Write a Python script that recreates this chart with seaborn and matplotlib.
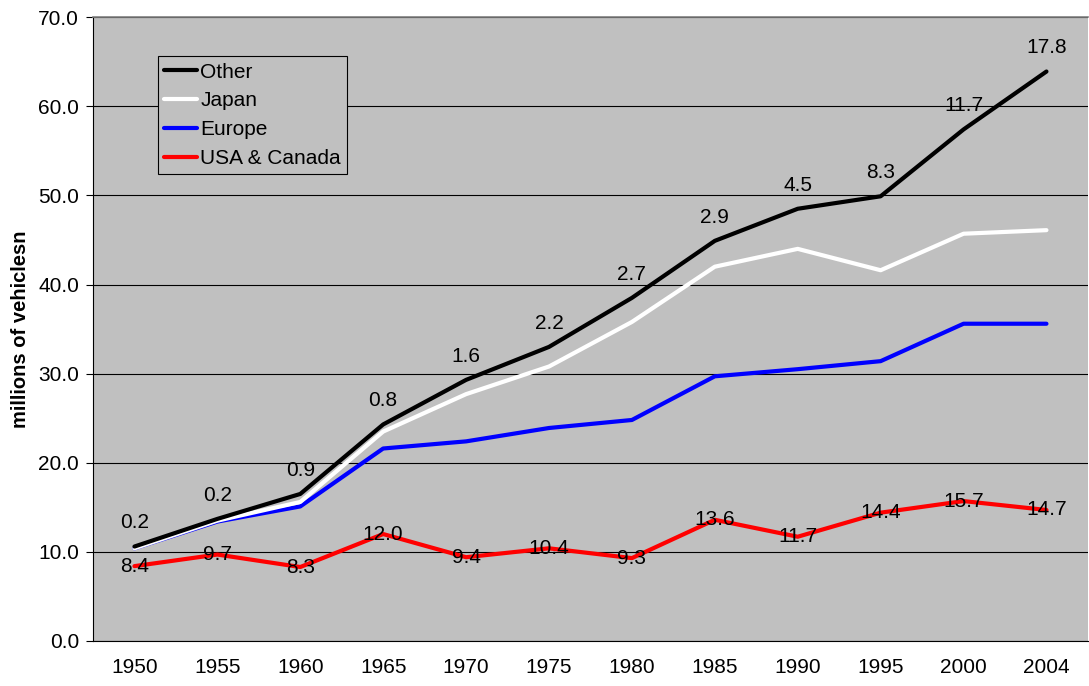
import matplotlib
matplotlib.use('Agg')
import matplotlib.pyplot as plt
import numpy as np
import pandas as pd
import seaborn as sns

# chart data (stacked components, millions of vehicles)
years = ['1950', '1955', '1960', '1965', '1970', '1975',
         '1980', '1985', '1990', '1995', '2000', '2004']
usa_canada = [8.4, 9.7, 8.3, 12.0, 9.4, 10.4, 9.3, 13.6, 11.7, 14.4, 15.7, 14.7]
europe = [2.0, 3.7, 6.8, 9.6, 13.0, 13.5, 15.5, 16.1, 18.8, 17.0, 19.9, 20.9]
japan = [0.0, 0.1, 0.5, 1.9, 5.3, 6.9, 11.0, 12.3, 13.5, 10.2, 10.1, 10.5]
other = [0.2, 0.2, 0.9, 0.8, 1.6, 2.2, 2.7, 2.9, 4.5, 8.3, 11.7, 17.8]
series_names = ['USA & Canada', 'Europe', 'Japan', 'Other']
series_colors = ['#FF0000', '#0000FF', '#FFFFFF', '#000000']


def main():
    sns.set_style('white', {'axes.facecolor': '#C0C0C0',
                            'text.color': 'black',
                            'axes.labelcolor': 'black',
                            'xtick.color': 'black',
                            'ytick.color': 'black'})
    plt.rcParams['font.family'] = ['Liberation Sans', 'DejaVu Sans']

    stacked = np.cumsum(np.array([usa_canada, europe, japan, other]), axis=0)
    pos = np.arange(len(years))
    df = pd.DataFrame({
        'pos': np.tile(pos, len(series_names)),
        'value': stacked.ravel(),
        'series': np.repeat(series_names, len(years)),
    })

    fig = plt.figure(figsize=(10.89, 6.86), dpi=100)
    ax = fig.add_axes([0.0854, 0.0656, 0.9136, 0.9094])
    sns.lineplot(data=df, x='pos', y='value', hue='series',
                 hue_order=series_names, palette=series_colors,
                 linewidth=3, ax=ax, legend=False, sort=False)

    ax.set_xlim(-0.5, len(years) - 0.5)
    ax.set_ylim(0, 70)
    ax.set_yticks(np.arange(0, 71, 10))
    ax.set_yticklabels([f'{v:.1f}' for v in np.arange(0, 71, 10)])
    ax.set_xticks(pos)
    ax.set_xticklabels(years)
    ax.set_xticks(np.arange(-0.5, len(years), 1), minor=True)
    ax.tick_params(axis='x', which='major', length=0, pad=12, labelsize=15,
                   labelcolor='black')
    ax.tick_params(axis='x', which='minor', length=5, width=0.8,
                   color='black', direction='out')
    ax.tick_params(axis='y', length=5, width=0.8, color='black',
                   direction='out', pad=5, labelsize=15, left=True,
                   labelcolor='black')
    ax.yaxis.grid(True, color='black', linewidth=0.8)
    ax.set_axisbelow(True)

    ax.set_xlabel('')
    ax.set_ylabel('millions of vehiclesn', fontsize=14.5, fontweight='bold',
                  labelpad=6, color='black')

    for side in ['left', 'bottom']:
        ax.spines[side].set_color('black')
        ax.spines[side].set_linewidth(0.8)
    ax.spines['top'].set_color('#808080')
    ax.spines['top'].set_linewidth(1.2)
    ax.spines['right'].set_visible(False)

    # value labels
    for i, v in enumerate(usa_canada):
        ax.text(pos[i], stacked[0][i], f'{v:.1f}', ha='center',
                va='center', fontsize=15, color='black')
    for i, v in enumerate(other):
        ax.annotate(f'{v:.1f}', (pos[i], stacked[3][i]), xytext=(0, 17),
                    textcoords='offset points', ha='center', va='center',
                    fontsize=15, color='black')

    lines = ax.get_lines()[:len(series_names)]
    leg = ax.legend(lines[::-1], series_names[::-1], loc='upper left',
                    bbox_to_anchor=(0.065, 0.937), fontsize=15,
                    frameon=True, fancybox=False, framealpha=1,
                    edgecolor='black', handlelength=1.6, handletextpad=0.15,
                    labelspacing=0.47, borderpad=0.3, borderaxespad=0)
    leg.get_frame().set_linewidth(0.8)

    fig.savefig('out.png', dpi=100)


if __name__ == '__main__':
    main()
